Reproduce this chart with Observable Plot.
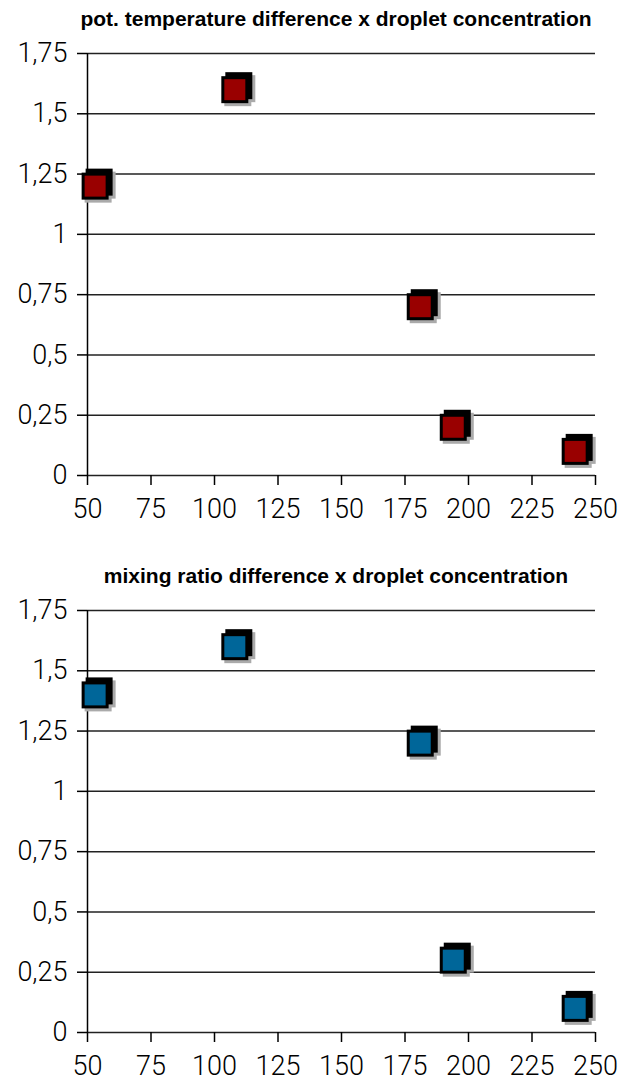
<!DOCTYPE html>
<html><head><meta charset="utf-8">
<script src="https://cdn.jsdelivr.net/npm/d3@7"></script>
<script src="https://cdn.jsdelivr.net/npm/@observablehq/plot@0.6"></script>
<style>
body{margin:0;background:#fff;}
.block{width:619px;height:557px;}
.title{height:40px;font-family:"Liberation Sans",Arial,sans-serif;font-weight:bold;font-size:21px;line-height:38px;text-align:center;padding-left:53px;box-sizing:border-box;width:619px;white-space:nowrap;}
svg{display:block;}
</style></head><body><div id="root"></div>
<script>
const droplet = [53, 108, 181, 194, 242];
const potTemp = [1.2, 1.6, 0.7, 0.2, 0.1];
const mixRatio = [1.4, 1.6, 1.2, 0.3, 0.1];
const xTicks = [50, 75, 100, 125, 150, 175, 200, 225, 250];
const yTicks = [0, 0.25, 0.5, 0.75, 1, 1.25, 1.5, 1.75];
const titles = ["pot. temperature difference x droplet concentration", "mixing ratio difference x droplet concentration"];
const colors = ["#990000", "#006699"];
const series = [potTemp, mixRatio];

const fmt = d => String(d).replace(".", ",");
const rSide = s => s / Math.sqrt(Math.PI);

function chart(vals, color) {
  const data = droplet.map((x, i) => ({x, y: vals[i]}));
  const R = rSide(27), Ri = rSide(21);
  return Plot.plot({
    width: 619, height: 517,
    marginTop: 13, marginBottom: 82, marginLeft: 87, marginRight: 24,
    x: {domain: [50, 250]},
    y: {domain: [0, 1.75]},
    style: {fontFamily: "Roboto, sans-serif", fontSize: "27px", fontWeight: 300, color: "#000", background: "#fff", overflow: "visible"},
    marks: [
      Plot.ruleY(yTicks, {stroke: "#222", strokeWidth: 1.5}),
      Plot.ruleX([50], {stroke: "#000", strokeWidth: 1.5}),
      Plot.axisY({ticks: yTicks, tickSize: 10, tickPadding: 10, tickFormat: fmt, label: null, strokeWidth: 1.5, strokeOpacity: 1}),
      Plot.axisX({ticks: xTicks, tickSize: 10, tickPadding: 13, label: null, strokeWidth: 1.5, strokeOpacity: 1}),
      Plot.dot(data, {x: "x", y: "y", symbol: "square", r: R, fill: "#aaa", dx: 3, dy: 3}),
      Plot.dot(data, {x: "x", y: "y", symbol: "square", r: R, fill: "#aaa", dx: 7, dy: -1}),
      Plot.dot(data, {x: "x", y: "y", symbol: "square", r: R, fill: "#000", dx: 4, dy: -4}),
      Plot.dot(data, {x: "x", y: "y", symbol: "square", r: R, fill: "#000"}),
      Plot.dot(data, {x: "x", y: "y", symbol: "square", r: Ri, fill: color})
    ]
  });
}

const root = document.getElementById("root");
series.forEach((vals, i) => {
  const block = document.createElement("div");
  block.className = "block";
  const t = document.createElement("div");
  t.className = "title";
  t.textContent = titles[i];
  block.appendChild(t);
  block.appendChild(chart(vals, colors[i]));
  root.appendChild(block);
});
</script>
</body></html>
